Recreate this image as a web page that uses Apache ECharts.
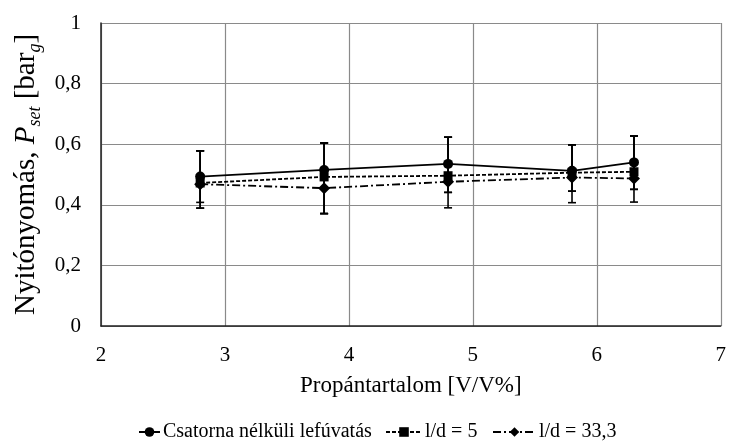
<!DOCTYPE html>
<html>
<head>
<meta charset="utf-8">
<script src="https://cdn.jsdelivr.net/npm/echarts@6/dist/echarts.min.js"></script>
<style>
html,body{margin:0;padding:0;background:#fff;}
#c{width:729px;height:446px;}
</style>
</head>
<body>
<div id="c"></div>
<script>
var xValues = [2.8, 3.8, 4.8, 5.8, 6.3];
var seriesNames = ['Csatorna nélküli lefúvatás', 'l/d = 5', 'l/d = 33,3'];
var s1 = [0.493, 0.515, 0.535, 0.512, 0.540];
var s1lo = [0.408, 0.371, 0.441, 0.445, 0.451];
var s1hi = [0.578, 0.604, 0.623, 0.598, 0.627];
var s2 = [0.472, 0.492, 0.496, 0.506, 0.509];
var s2lo = [0.389, 0.371, 0.441, 0.445, 0.451];
var s2hi = [0.578, 0.604, 0.623, 0.598, 0.627];
var s3 = [0.468, 0.455, 0.476, 0.490, 0.487];
var s3lo = [0.389, 0.371, 0.390, 0.407, 0.409];
var s3hi = [0.578, 0.604, 0.623, 0.598, 0.627];
var xTicks = [2, 3, 4, 5, 6, 7];
var yTicks = ['0', '0,2', '0,4', '0,6', '0,8', '1'];

var FONT = 'Liberation Serif';
var chart = echarts.init(document.getElementById('c'));

function pts(vals) { return xValues.map(function (x, i) { return [x, vals[i]]; }); }
function errData(lo, hi) { return xValues.map(function (x, i) { return [x, lo[i], hi[i]]; }); }

function errSeries(lo, hi) {
  return {
    type: 'custom',
    silent: true,
    z: 1,
    data: errData(lo, hi),
    renderItem: function (params, api) {
      var x = api.value(0);
      var l = api.coord([x, api.value(1)]);
      var h = api.coord([x, api.value(2)]);
      var hw = 4;
      var st = { stroke: '#000', lineWidth: 1.6 };
      return {
        type: 'group',
        children: [
          { type: 'line', shape: { x1: l[0], y1: l[1], x2: h[0], y2: h[1] }, style: st },
          { type: 'line', shape: { x1: l[0] - hw, y1: l[1], x2: l[0] + hw, y2: l[1] }, style: st },
          { type: 'line', shape: { x1: h[0] - hw, y1: h[1], x2: h[0] + hw, y2: h[1] }, style: st }
        ]
      };
    }
  };
}

function legendFor(name, left, w) {
  return {
    left: left, top: 422, padding: 0,
    itemWidth: w, itemHeight: 12,
    selectedMode: false,
    textStyle: { fontFamily: FONT, fontSize: 20, color: '#000', padding: [0, 0, 0, -2] },
    data: [name]
  };
}

var option = {
  backgroundColor: '#fff',
  animation: false,
  textStyle: { fontFamily: FONT, color: '#000' },
  grid: { left: 101, top: 23, right: 3, bottom: 120, containLabel: false },
  legend: [
    legendFor(seriesNames[0], 138, 21),
    legendFor(seriesNames[1], 385, 36),
    legendFor(seriesNames[2], 492, 43)
  ],
  xAxis: {
    type: 'value', min: 2, max: 7, interval: 1,
    name: 'Propántartalom [V/V%]', nameLocation: 'middle', nameGap: 48,
    nameTextStyle: { fontFamily: FONT, fontSize: 23, color: '#000' },
    axisLine: { show: true, onZero: false, lineStyle: { color: '#222', width: 1.5 } },
    axisTick: { show: false },
    axisLabel: { fontFamily: FONT, fontSize: 21, color: '#000', margin: 19,
      formatter: function (v) { return xTicks.indexOf(v) >= 0 ? String(v) : ''; } },
    splitLine: { show: true, lineStyle: { color: '#8a8a8a', width: 1.2 } }
  },
  yAxis: {
    type: 'value', min: 0, max: 1, interval: 0.2,
    name: '{n|Nyitónyomás, }{i|P}{s|set}{n| [bar}{s|g}{n|]}',
    nameLocation: 'middle', nameGap: 54,
    nameTextStyle: {
      fontFamily: FONT, fontSize: 29, color: '#000',
      rich: {
        n: { fontFamily: FONT, fontSize: 29, color: '#000', lineHeight: 34 },
        i: { fontFamily: FONT, fontSize: 29, fontStyle: 'italic', color: '#000', lineHeight: 34 },
        s: { fontFamily: FONT, fontSize: 18, fontStyle: 'italic', color: '#000', lineHeight: 34, verticalAlign: 'bottom', padding: [10, 0, 0, 0] }
      }
    },
    axisLine: { show: true, lineStyle: { color: '#222', width: 1.5 } },
    axisTick: { show: false },
    axisLabel: { fontFamily: FONT, fontSize: 21, color: '#000', margin: 20, padding: [0, 0, 8, 0],
      formatter: function (v) { var k = Math.round(v * 5); return yTicks[k]; } },
    splitLine: { show: true, lineStyle: { color: '#8a8a8a', width: 1.2 } }
  },
  series: [
    errSeries(s1lo, s1hi),
    errSeries(s2lo, s2hi),
    errSeries(s3lo, s3hi),
    {
      name: seriesNames[0], type: 'line', z: 3, data: pts(s1),
      symbol: 'circle', symbolSize: 10,
      itemStyle: { color: '#000' },
      lineStyle: { color: '#000', width: 1.8, type: 'solid' }
    },
    {
      name: seriesNames[1], type: 'line', z: 3, data: pts(s2),
      symbol: 'rect', symbolSize: 9,
      itemStyle: { color: '#000' },
      lineStyle: { color: '#000', width: 1.8, type: [4, 2] }
    },
    {
      name: seriesNames[2], type: 'line', z: 3, data: pts(s3),
      symbol: 'diamond', symbolSize: 12,
      itemStyle: { color: '#000' },
      lineStyle: { color: '#000', width: 1.8, type: [8, 3, 2, 3] }
    }
  ]
};
chart.setOption(option);
</script>
</body>
</html>
